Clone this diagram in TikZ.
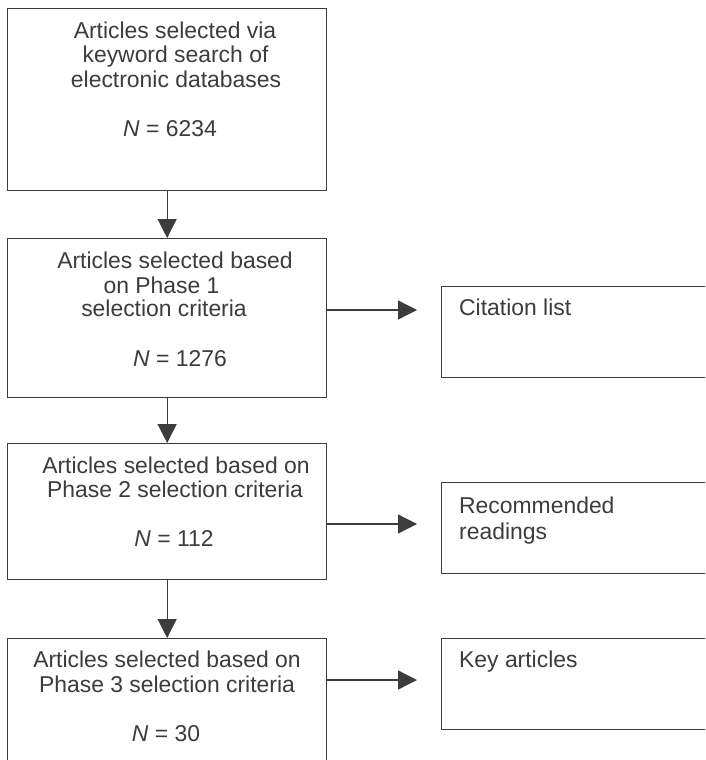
\documentclass[tikz,border=0pt]{standalone}
\usepackage{fontspec}
\setmainfont{Liberation Sans}
\usetikzlibrary{arrows.meta}
\definecolor{ink}{HTML}{3C3C3C}
\begin{document}
\begin{tikzpicture}[x=1pt,y=-1pt,
  box/.style={draw=ink, line width=1.3pt, inner sep=0pt, anchor=north west},
  txt/.style={text=ink, inner sep=0pt, anchor=base, font=\fontsize{22.9}{25}\selectfont},
  ltxt/.style={txt, anchor=base west},
  arr/.style={draw=ink, line width=1.3pt, -{Triangle[width=19pt,length=19pt]}}]
\clip (0,0) rectangle (705,760);
\fill[white] (0,0) rectangle (705,760);
% left column boxes
\node[box, minimum width=319pt, minimum height=182pt] (A) at (7,8) {};
\node[box, minimum width=319pt, minimum height=159pt] (B) at (7,238) {};
\node[box, minimum width=319pt, minimum height=136pt] (C) at (7,443) {};
\node[box, minimum width=319pt, minimum height=130pt] (D) at (7,638) {};
% right column boxes
\node[box, minimum width=290pt, minimum height=91pt] (R1) at (441,286) {};
\node[box, minimum width=290pt, minimum height=91pt] (R2) at (441,482) {};
\node[box, minimum width=290pt, minimum height=91pt] (R3) at (441,638) {};
% texts
\node[txt] (a1) at (175,38) {Articles selected via};
\node[txt] (a2) at (175.5,63) {keyword search of};
\node[txt] (a3) at (176,88) {electronic databases};
\node[txt] (a4) at (170,136) {{\itshape N} = 6234};
\node[txt] (b1) at (175,268) {Articles selected based};
\node[txt] (b2) at (161.5,293) {on Phase 1};
\node[txt] (b3) at (164,316) {selection criteria};
\node[txt] (b4) at (180,366) {{\itshape N} = 1276};
\node[txt] (c1) at (176,473) {Articles selected based on};
\node[txt] (c2) at (175,497) {Phase 2 selection criteria};
\node[txt] (c3) at (174,546) {{\itshape N} = 112};
\node[txt] (d1) at (167,667) {Articles selected based on};
\node[txt] (d2) at (167,692) {Phase 3 selection criteria};
\node[txt] (d3) at (166,741) {{\itshape N} = 30};
\node[ltxt] (r1) at (459,315) {Citation list};
\node[ltxt] (r2a) at (459,513) {Recommended};
\node[ltxt] (r2b) at (459,539) {readings};
\node[ltxt] (r3) at (459,667) {Key articles};
% vertical arrows
\draw[arr] (A.south) -- (B.north);
\draw[arr] (B.south) -- (C.north);
\draw[arr] (C.south) -- (D.north);
% horizontal arrows
\coordinate (h1) at (417,310);
\coordinate (h2) at (417,524);
\coordinate (h3) at (417,680);
\draw[arr] (B.east |- h1) -- (h1);
\draw[arr] (C.east |- h2) -- (h2);
\draw[arr] (D.east |- h3) -- (h3);
\end{tikzpicture}
\end{document}
